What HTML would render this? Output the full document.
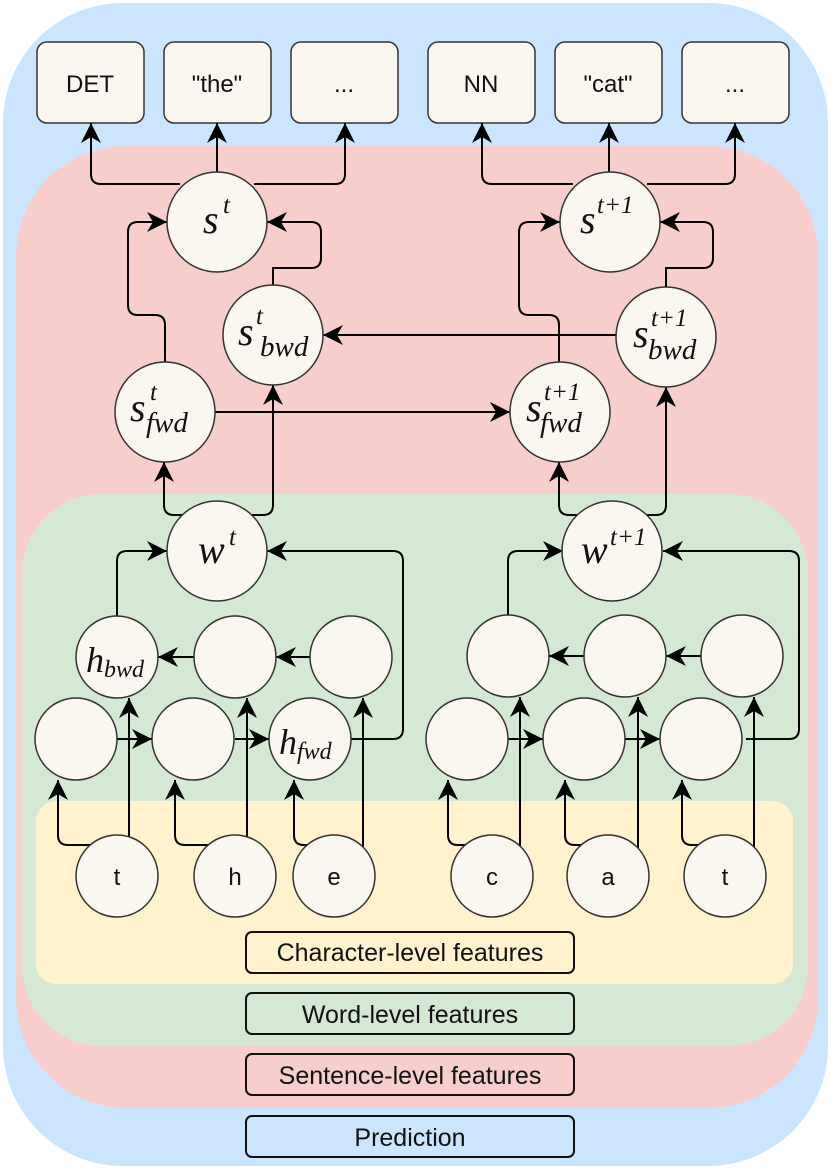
<!DOCTYPE html>
<html><head><meta charset="utf-8"><style>
html,body{margin:0;padding:0;background:#fff;}
svg{display:block;}
.sans{font-family:"Liberation Sans",sans-serif;}
.m{font-family:"Liberation Serif",serif;font-style:italic;fill:#111;}
</style></head><body>
<svg width="831" height="1170" viewBox="0 0 831 1170" xmlns="http://www.w3.org/2000/svg">
<defs>
<marker id="a" markerUnits="userSpaceOnUse" markerWidth="24" markerHeight="22" refX="20" refY="10" orient="auto">
<path d="M0,0 L20,10 L0,20 L6,10 Z" fill="#000"/>
</marker>
</defs>
<rect x="3" y="3" width="825" height="1163" rx="120" fill="#cce5ff"/>
<rect x="16" y="146" width="802" height="962" rx="110" fill="#f8cecc"/>
<rect x="22" y="494" width="786" height="552" rx="80" fill="#d5e8d4"/>
<rect x="36" y="801" width="757" height="183" rx="20" fill="#fff2cc"/>

<g fill="#f9f7ef" stroke="#333" stroke-width="1.5">
<rect x="37" y="42" width="107" height="81" rx="10"/>
<rect x="164" y="42" width="107" height="81" rx="10"/>
<rect x="291" y="42" width="107" height="81" rx="10"/>
<rect x="428" y="42" width="107" height="81" rx="10"/>
<rect x="555" y="42" width="107" height="81" rx="10"/>
<rect x="682" y="42" width="107" height="81" rx="10"/>
</g>
<g class="sans" font-size="24" text-anchor="middle" fill="#111">
<text x="90" y="92">DET</text><text x="217" y="92">"the"</text><text x="344" y="92">...</text>
<text x="481" y="92">NN</text><text x="608" y="92">"cat"</text><text x="735" y="92">...</text>
</g>

<g fill="none" stroke="#000" stroke-width="2" marker-end="url(#a)">
<path d="M180,184 H101 Q91,184 91,174 V123"/>
<path d="M217,172 V123"/>
<path d="M254,184 H335 Q345,184 345,174 V123"/>
<path d="M573,184 H492 Q482,184 482,174 V123"/>
<path d="M609,172 V123"/>
<path d="M647,184 H725 Q735,184 735,174 V123"/>
<path d="M165,362 V325 Q165,315 155,315 H138 Q128,315 128,305 V232 Q128,222 138,222 H167"/>
<path d="M273,285 V268 H311 Q321,268 321,258 V232 Q321,222 311,222 H267"/>
<path d="M559,362 V325 Q559,315 549,315 H529 Q519,315 519,305 V232 Q519,222 529,222 H560"/>
<path d="M666,287 V268 H703 Q713,268 713,258 V232 Q713,222 703,222 H660"/>
<path d="M616,335 H323"/>
<path d="M215,412 H510"/>
<path d="M182,515 H174 Q164,515 164,505 V462"/>
<path d="M252,515 H263 Q273,515 273,505 V385"/>
<path d="M578,515 H569 Q559,515 559,505 V462"/>
<path d="M646,515 H656 Q666,515 666,505 V387"/>
<path d="M117,616 V561 Q117,551 127,551 H167"/>
<path d="M351,739 H393 Q403,739 403,729 V561 Q403,551 393,551 H267"/>
<path d="M508,615 V561 Q508,551 518,551 H563"/>
<path d="M746,739 H789 Q799,739 799,729 V561 Q799,551 789,551 H663"/>
<path d="M117,739 H152"/><path d="M235,739 H269"/>
<path d="M310,657 H276"/><path d="M194,657 H158"/>
<path d="M508,739 H543"/><path d="M625,739 H660"/>
<path d="M701,656 H666"/><path d="M584,656 H549"/>
<path d="M90,845 H68 Q58,845 58,835 V780"/>
<path d="M129,837 V698"/>
<path d="M208,845 H185 Q175,845 175,835 V780"/>
<path d="M247,837 V698"/>
<path d="M307,845 H304 Q294,845 294,835 V780"/>
<path d="M363,847 V698"/>
<path d="M465,845 H458 Q448,845 448,835 V780"/>
<path d="M520,846 V697"/>
<path d="M581,845 H575 Q565,845 565,835 V780"/>
<path d="M638,848 V697"/>
<path d="M698,845 H692 Q682,845 682,835 V780"/>
<path d="M754,847 V697"/>
</g>

<g fill="#f9f7ef" stroke="#333" stroke-width="1.5">
<circle cx="217" cy="222" r="50"/>
<circle cx="273" cy="335" r="50"/>
<circle cx="165" cy="412" r="50"/>
<circle cx="610" cy="222" r="50"/>
<circle cx="666" cy="337" r="50"/>
<circle cx="560" cy="412" r="50"/>
<circle cx="217" cy="551" r="50"/>
<circle cx="612" cy="551" r="50"/>
<circle cx="117" cy="657" r="41"/><circle cx="235" cy="657" r="41"/><circle cx="351" cy="657" r="41"/>
<circle cx="76" cy="739" r="41"/><circle cx="193" cy="739" r="41"/><circle cx="310" cy="739" r="41"/>
<circle cx="508" cy="656" r="41"/><circle cx="625" cy="656" r="41"/><circle cx="742" cy="656" r="41"/>
<circle cx="467" cy="739" r="41"/><circle cx="584" cy="739" r="41"/><circle cx="701" cy="739" r="41"/>
<circle cx="117" cy="876" r="41"/><circle cx="235" cy="876" r="41"/><circle cx="334" cy="876" r="41"/>
<circle cx="492" cy="876" r="41"/><circle cx="608" cy="876" r="41"/><circle cx="725" cy="876" r="41"/>
</g>

<g class="sans" font-size="24" text-anchor="middle" fill="#111">
<text x="117" y="885">t</text><text x="235" y="885">h</text><text x="334" y="885">e</text>
<text x="492" y="885">c</text><text x="608" y="885">a</text><text x="725" y="885">t</text>
</g>

<g class="m">
<text x="203" y="233" font-size="40">s</text><text x="223" y="213" font-size="25">t</text>
<text x="238" y="345" font-size="40">s</text><text x="256" y="324" font-size="25">t</text><text x="260" y="356" font-size="29">bwd</text>
<text x="130" y="421" font-size="40">s</text><text x="150" y="400" font-size="25">t</text><text x="146" y="432" font-size="29">fwd</text>
<text x="580" y="233" font-size="40">s</text><text x="597" y="213" font-size="25">t+1</text>
<text x="633" y="347" font-size="40">s</text><text x="651" y="326" font-size="25">t+1</text><text x="648" y="359" font-size="29">bwd</text>
<text x="526" y="421" font-size="40">s</text><text x="544" y="400" font-size="25">t+1</text><text x="540" y="432" font-size="29">fwd</text>
<text x="198" y="563" font-size="40">w</text><text x="229" y="545" font-size="25">t</text>
<text x="581" y="563" font-size="40">w</text><text x="610" y="545" font-size="25">t+1</text>
<text x="86" y="672" font-size="36">h</text><text x="104" y="677" font-size="24">bwd</text>
<text x="279" y="754" font-size="36">h</text><text x="297" y="759" font-size="24">fwd</text>
</g>

<g stroke="#111" stroke-width="2">
<rect x="246" y="932" width="328" height="41" rx="6" fill="#fff2cc"/>
<rect x="246" y="993" width="328" height="41" rx="6" fill="#d5e8d4"/>
<rect x="246" y="1054" width="328" height="41" rx="6" fill="#f8cecc"/>
<rect x="246" y="1116" width="328" height="41" rx="6" fill="#cce5ff"/>
</g>
<g class="sans" font-size="25" text-anchor="middle" fill="#111">
<text x="410" y="961">Character-level features</text>
<text x="410" y="1023">Word-level features</text>
<text x="410" y="1084">Sentence-level features</text>
<text x="410" y="1146">Prediction</text>
</g>
</svg>
</body></html>
